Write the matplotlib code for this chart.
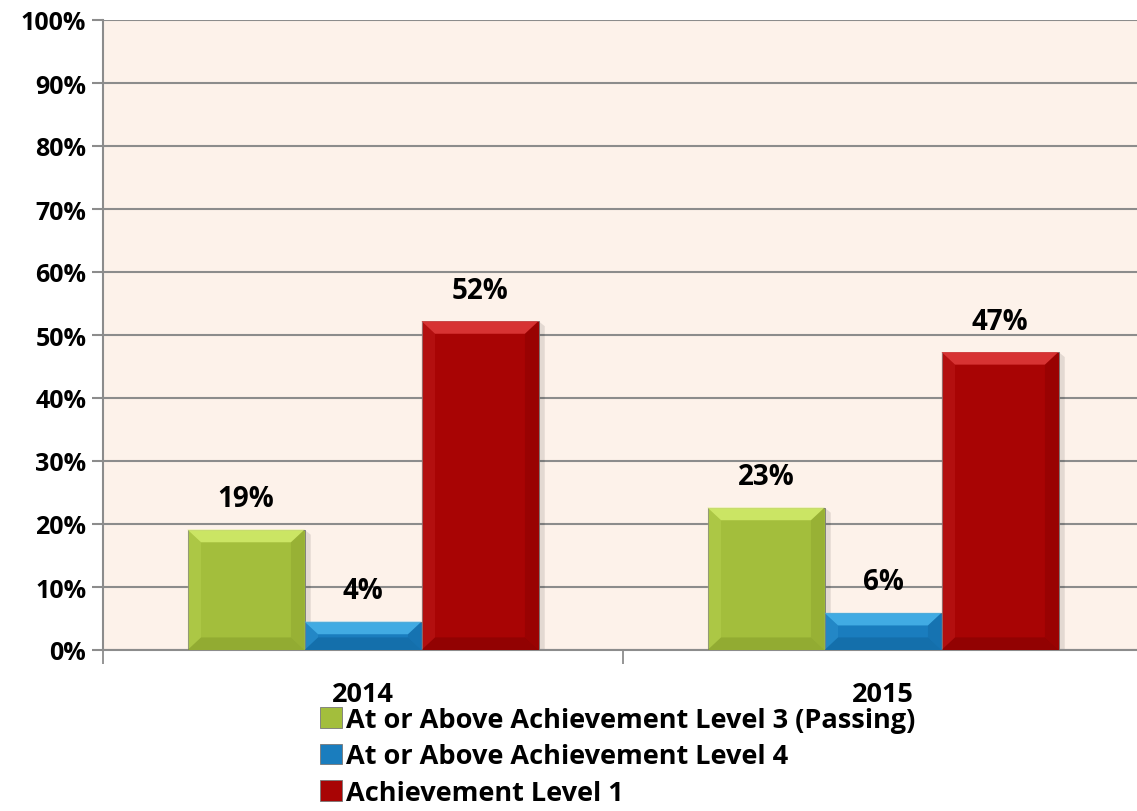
import numpy as np
import matplotlib.pyplot as plt
from matplotlib.patches import Polygon

years = ['2014', '2015']
series_names = ['At or Above Achievement Level 3 (Passing)',
                'At or Above Achievement Level 4',
                'Achievement Level 1']
level3 = [19.1, 22.6]
level4 = [4.5, 5.9]
level1 = [52.2, 47.3]
labels3 = ['19%', '23%']
labels4 = ['4%', '6%']
labels1 = ['52%', '47%']

colours = ['#A3BE3C', '#1A7DBE', '#A80404']
lights = ['#D3EC6C', '#48B4EA', '#E03C3C']
darks = ['#7F9628', '#0E5F96', '#780000']

plt.rcParams['font.family'] = ['Open Sans', 'DejaVu Sans']
plt.rcParams['font.weight'] = 'bold'

fig = plt.figure(figsize=(11.37, 8.12), dpi=100)
ax = fig.add_axes([103 / 1137, 1 - 651 / 812, 1 - 103 / 1137, (651 - 21) / 812])
ax.set_facecolor('#FDF2EA')

x = np.arange(len(years))
w = 0.225
offsets = [-w, 0, w]
all_vals = [level3, level4, level1]
all_labels = [labels3, labels4, labels1]

ax.set_xlim(-0.5, -0.5 + (1137 - 103) / 520)
ax.set_ylim(0, 100)

bx = 0.026  # bevel in x (data units)
by = 2.0    # bevel in y
for k, (vals, labs) in enumerate(zip(all_vals, all_labels)):
    bars = ax.bar(x + offsets[k], vals, w, color=colours[k], edgecolor='#777777',
                  linewidth=0.6, zorder=3, label=series_names[k])
    for b, v, lab in zip(bars, vals, labs):
        x0, x1 = b.get_x(), b.get_x() + b.get_width()
        h = b.get_height()
        ey = min(by, h / 2)
        # shadow on the right
        ax.add_patch(Polygon([(x1, 0), (x1 + 0.012, 0), (x1 + 0.012, h - 0.8), (x1, h)],
                             closed=True, fc='#000000', alpha=0.10, ec='none', zorder=2))
        ax.add_patch(Polygon([(x0, h), (x1, h), (x1 - bx, h - ey), (x0 + bx, h - ey)],
                             closed=True, fc=lights[k], ec='none', zorder=4, alpha=0.85))
        ax.add_patch(Polygon([(x0, 0), (x1, 0), (x1 - bx, ey), (x0 + bx, ey)],
                             closed=True, fc=darks[k], ec='none', zorder=4, alpha=0.45))
        ax.add_patch(Polygon([(x1, 0), (x1, h), (x1 - bx, h - ey), (x1 - bx, ey)],
                             closed=True, fc=darks[k], ec='none', zorder=4, alpha=0.3))
        ax.add_patch(Polygon([(x0, 0), (x0, h), (x0 + bx, h - ey), (x0 + bx, ey)],
                             closed=True, fc=lights[k], ec='none', zorder=4, alpha=0.2))
        ax.text(b.get_x() + w / 2, h + 2.6, lab, ha='center', va='bottom',
                fontsize=20, fontweight='bold', color='black', zorder=5)

ax.set_yticks(np.arange(0, 101, 10))
ax.set_yticklabels([f'{t}%' for t in range(0, 101, 10)], fontsize=18, fontweight='bold')
ax.yaxis.grid(True, color='#8C8C8C', linewidth=1.5, zorder=0)
ax.set_axisbelow(True)

ax.set_xticks([-0.5, 0.5])
ax.set_xticklabels([])
ax.set_xticks(x, minor=True)
ax.set_xticklabels(years, minor=True, fontsize=19.5, fontweight='bold')
ax.tick_params(axis='x', which='minor', length=0, pad=22)
ax.tick_params(axis='x', which='major', length=10, color='#8C8C8C', width=1.3)
ax.tick_params(axis='y', length=8, color='#8C8C8C', width=1.5, pad=4)

for s in ['top', 'right']:
    ax.spines[s].set_visible(False)
for s in ['left', 'bottom']:
    ax.spines[s].set_color('#8C8C8C')
    ax.spines[s].set_linewidth(1.5)

fig.legend(loc='upper left', bbox_to_anchor=(320 / 1137, 1 - 708 / 812), frameon=False,
           prop={'size': 19.5, 'weight': 'bold'}, handlelength=0.8, handleheight=0.8,
           handletextpad=0.15, labelspacing=0.38, borderaxespad=0, borderpad=0)

fig.savefig('out.png', dpi=100)
